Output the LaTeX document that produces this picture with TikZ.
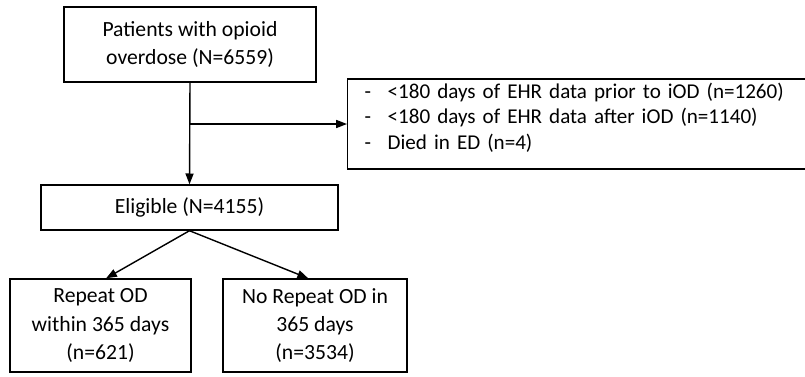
\documentclass[tikz,border=0pt]{standalone}
\usepackage{fontspec}
\setmainfont{Carlito}
\usetikzlibrary{arrows.meta}

\newcommand{\exclitem}[1]{\makebox[0.575cm][l]{-}#1}

\tikzset{
	box/.style={draw, line width=1pt, align=center, inner sep=2pt,
		font=\fontsize{15.4}{20}\selectfont},
	flow/.style={line width=1pt, -{Triangle[length=0.27cm, width=0.2cm]}}
}

\begin{document}
\begin{tikzpicture}
			\useasboundingbox (0,0) rectangle (20.125,9.4);

			% boxes
			\node[box, minimum width=6.3cm, minimum height=1.875cm] (patients) at (4.75,8.2875)
				{Patients with opioid\\overdose (N=6559)};
			\node[box, anchor=west, align=left, text width=11.2cm, minimum height=2.25cm,
				inner xsep=0.425cm, font=\fontsize{15}{18.2}\selectfont] (excluded) at (8.675,6.3)
				{\exclitem{<180 days of EHR data prior to iOD (n=1260)}\\
				 \exclitem{<180 days of EHR data after iOD (n=1140)}\\
				 \exclitem{Died in ED (n=4)}\\[-0.25cm]\mbox{}};
			\node[box, minimum width=7.425cm, minimum height=1.125cm] (eligible) at (4.7375,4.2125)
				{Eligible (N=4155)};
			\node[box, minimum width=4.525cm, minimum height=2.325cm] (repeat) at (2.5125,1.2625)
				{Repeat OD\\within 365 days\\(n=621)};
			\node[box, minimum width=4.6cm, minimum height=2.325cm] (norepeat) at (7.875,1.2625)
				{No Repeat OD in\\365 days\\(n=3534)};

			% arrows
			\coordinate (split) at (patients.south |- excluded.west);
			\draw[flow] (patients.south) -- (eligible.north);
			\draw[flow] (split) -- (excluded.west);
			\draw[flow] (eligible.south) -- ([xshift=0.14cm]repeat.north);
			\draw[flow] (eligible.south) -- ([xshift=-0.17cm]norepeat.north);
		\end{tikzpicture}
\end{document}
